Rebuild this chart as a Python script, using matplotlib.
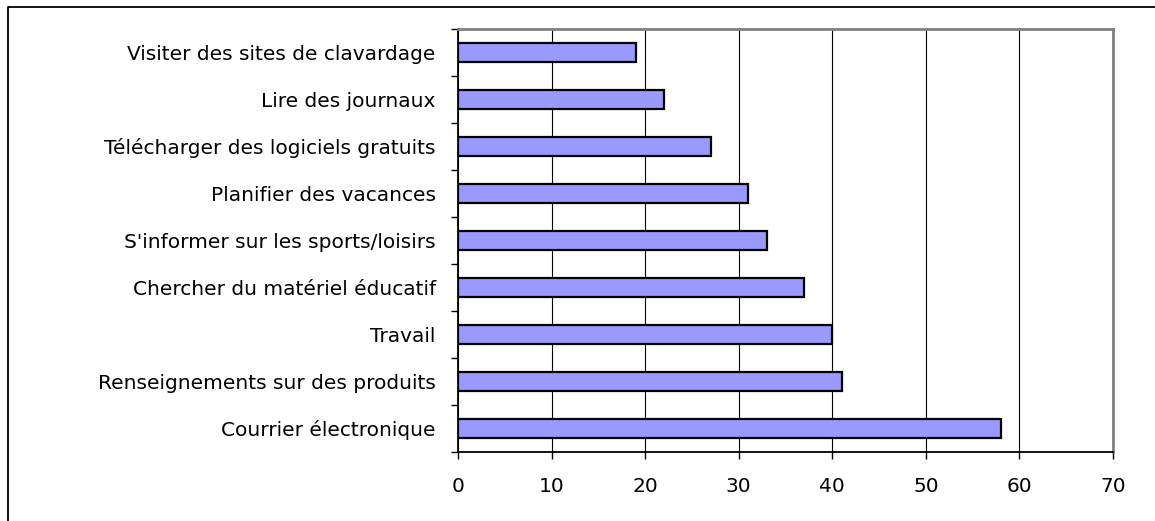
import matplotlib
matplotlib.use('Agg')
import matplotlib.pyplot as plt
from matplotlib.lines import Line2D
import numpy as np

# activités (de haut en bas) et pourcentages
activities = [
    "Visiter des sites de clavardage",
    "Lire des journaux",
    "Télécharger des logiciels gratuits",
    "Planifier des vacances",
    "S'informer sur les sports/loisirs",
    "Chercher du matériel éducatif",
    "Travail",
    "Renseignements sur des produits",
    "Courrier électronique",
]
values = [19, 22, 27, 31, 33, 37, 40, 41, 58]
x_ticks = [0, 10, 20, 30, 40, 50, 60, 70]

# police plus large pour approcher l'espacement des lettres de l'original
plt.rcParams['font.family'] = ['DejaVu Sans']

W, H = 1155, 521
fig = plt.figure(figsize=(W / 100, H / 100), dpi=100)
ax = fig.add_axes([458 / W, 1 - 452 / H, (1113 - 458) / W, (452 - 29) / H])

y = np.arange(len(activities))
ax.barh(y, values, height=0.42, color='#9999FF', edgecolor='black', linewidth=1.6, zorder=3)

ax.set_xlim(0, 70)
ax.set_ylim(len(activities) - 0.5, -0.5)

ax.set_xticks(x_ticks)
ax.set_xticklabels([str(t) for t in x_ticks], fontsize=14.5)
ax.tick_params(axis='x', direction='out', length=5, width=1, pad=13)

ax.set_yticks(y)
ax.set_yticklabels(activities, fontsize=14.5)
ax.tick_params(axis='y', which='major', length=0, pad=16)
ax.set_yticks(np.arange(-0.5, len(activities), 1), minor=True)
ax.tick_params(axis='y', which='minor', direction='out', length=5, width=1)

ax.xaxis.grid(True, color='black', linewidth=0.8)
ax.set_axisbelow(True)

for side in ['left', 'bottom']:
    ax.spines[side].set_color('black')
    ax.spines[side].set_linewidth(1.3)
for side in ['top', 'right']:
    ax.spines[side].set_color('#808080')
    ax.spines[side].set_linewidth(2)

# cadre extérieur du graphique
fig.add_artist(Line2D([8 / W, 8 / W, 1.0], [0.0, 1 - 7 / H, 1 - 7 / H],
                      transform=fig.transFigure, color='black', linewidth=1.3))

fig.savefig('out.png', dpi=100)
